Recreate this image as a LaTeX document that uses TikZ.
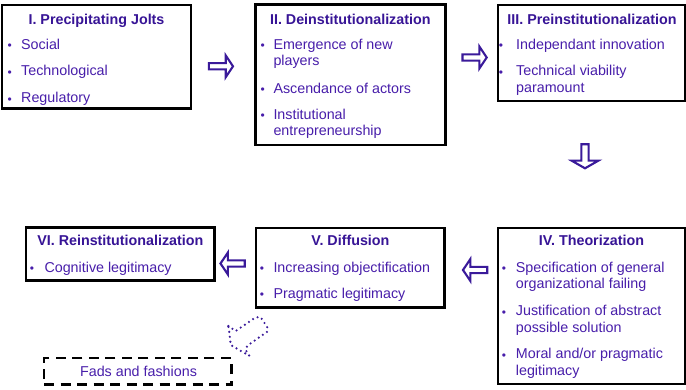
\documentclass[tikz,border=0pt]{standalone}
\usepackage{fontspec}
\setmainfont{Liberation Sans}
\definecolor{txtc}{RGB}{72,30,170}
\definecolor{ttlc}{RGB}{55,20,150}
\definecolor{arrc}{RGB}{58,26,154}
\tikzset{
  box/.style={draw=black, line width=2.7pt, fill=white, inner sep=0pt},
  fadsbox/.style={draw=black, line width=2.7pt, dash pattern=on 10pt off 6.5pt, inner sep=0pt},
  ttl/.style={anchor=base, inner sep=0pt, text=ttlc, font=\fontsize{14.3}{16.7}\selectfont\bfseries},
  txt/.style={anchor=base west, inner sep=0pt, text=txtc, font=\fontsize{14.3}{16.7}\selectfont},
  bul/.style={anchor=base, inner sep=0pt, text=txtc, font=\fontsize{12}{12}\selectfont},
  barrow/.pic={\draw[draw=arrc, fill=white, line width=2.1pt, line join=miter]
     (-12.2,-3.1) -- (4.7,-3.1) -- (4.7,-10.9) -- (12,0) -- (4.7,10.9) -- (4.7,3.1) -- (-12.2,3.1) -- cycle;},
  bigarrow/.pic={\draw[draw=arrc, fill=white, line width=2.1pt, line join=miter]
     (-12,-3.6) -- (4.4,-3.6) -- (4.4,-13.3) -- (12,0) -- (4.4,13.3) -- (4.4,3.6) -- (-12,3.6) -- cycle;},
  dotline/.style={draw=arrc, line width=2.4pt, line cap=round, dash pattern=on 0pt off 5pt}
}
\begin{document}
\begin{tikzpicture}[x=1pt,y=-1pt]
\useasboundingbox (0,0) rectangle (686,390);

% Boxes
\node[box, minimum width=189pt, minimum height=103.5pt] (B1) at (96.5,56.75) {};
\node[box, minimum width=190pt, minimum height=140.3pt] (B2) at (350.3,74.85) {};
\node[box, minimum width=187pt, minimum height=96pt] (B3) at (591.5,53) {};
\node[box, minimum width=187pt, minimum height=156pt] (B4) at (591.5,306) {};
\node[box, minimum width=188.7pt, minimum height=79.3pt] (B5) at (350.35,267.65) {};
\node[box, minimum width=188.7pt, minimum height=53.4pt] (B6) at (120.35,254) {};
\node[fadsbox, minimum width=187.3pt, minimum height=26.7pt] (F) at (137.65,371.35) {};

% Box I
\node[ttl] (t1) at (96.5,25) {I. Precipitating Jolts};
\node[bul] (u1a) at (9.7,49.8) {•};
\node[txt] (x1a) at (21,49.3) {Social};
\node[bul] (u1b) at (9.7,76.5) {•};
\node[txt] (x1b) at (21,76) {Technological};
\node[bul] (u1c) at (9.7,103.2) {•};
\node[txt] (x1c) at (21,102.7) {Regulatory};

% Box II
\node[ttl] (t2) at (350.3,25) {II. Deinstitutionalization};
\node[bul] (u2a) at (262.7,49.8) {•};
\node[txt] (x2a) at (273.3,49.3) {Emergence of new};
\node[txt] (x2b) at (273.3,66) {players};
\node[bul] (u2c) at (262.7,93.8) {•};
\node[txt] (x2c) at (273.3,93.3) {Ascendance of actors};
\node[bul] (u2d) at (262.7,119.8) {•};
\node[txt] (x2d) at (273.3,119.3) {Institutional};
\node[txt] (x2e) at (273.3,136) {entrepreneurship};

% Box III
\node[ttl] (t3) at (592,25) {III. Preinstitutionalization};
\node[bul] (u3a) at (501,49.8) {•};
\node[txt] (x3a) at (516,49.3) {Independant innovation};
\node[bul] (u3b) at (501,76.5) {•};
\node[txt] (x3b) at (516,76) {Technical viability};
\node[txt] (x3c) at (516,92.7) {paramount};

% Box IV
\node[ttl] (t4) at (591.5,246) {IV. Theorization};
\node[bul] (u4a) at (504,272.8) {•};
\node[txt] (x4a) at (515.7,272.3) {Specification of general};
\node[txt] (x4b) at (515.7,288.8) {organizational failing};
\node[bul] (u4c) at (504,316.5) {•};
\node[txt] (x4c) at (515.7,316) {Justification of abstract};
\node[txt] (x4d) at (515.7,332.5) {possible solution};
\node[bul] (u4e) at (504,359.5) {•};
\node[txt] (x4e) at (515.7,359) {Moral and/or pragmatic};
\node[txt] (x4f) at (515.7,375.7) {legitimacy};

% Box V
\node[ttl] (t5) at (350.35,246) {V. Diffusion};
\node[bul] (u5a) at (262,272.8) {•};
\node[txt] (x5a) at (273.3,272.3) {Increasing objectification};
\node[bul] (u5b) at (262,298.8) {•};
\node[txt] (x5b) at (273.3,298.3) {Pragmatic legitimacy};

% Box VI
\node[ttl] (t6) at (120.35,246) {VI. Reinstitutionalization};
\node[bul] (u6a) at (32,272.8) {•};
\node[txt] (x6a) at (44.3,272.3) {Cognitive legitimacy};

% Fads
\node[txt, anchor=base] (xf) at (138.5,376.7) {Fads and fashions};

% Block arrows
\pic at (221,66.3) {barrow};
\pic at (474.7,57.5) {barrow};
\pic[rotate=-90] at (585,156.3) {bigarrow};
\pic[rotate=180] at (232.5,263.5) {barrow};
\pic[rotate=180] at (475,270) {barrow};

% Dotted curved arrow outline
\draw[dotline] (228.3,326) -- (235.7,331) -- (255.7,317.3) -- (260.7,317.3)
  -- (267.3,327.3) -- (267.3,331.7) -- (247.3,345.7) -- (245.7,350)
  -- (249.3,355.7) -- (241,351) -- (230.7,345) -- (229.3,332.3) -- cycle;
\end{tikzpicture}
\end{document}
